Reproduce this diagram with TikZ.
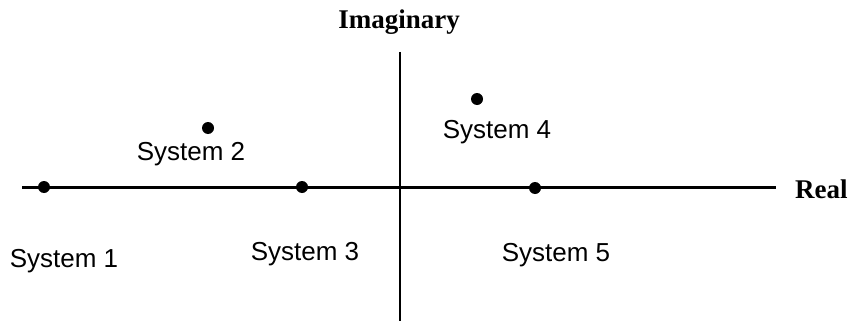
\documentclass[tikz,border=0pt]{standalone}
\usepackage{fontspec}
\setmainfont{Liberation Serif}
\newfontfamily\labelfont{Liberation Sans}
\begin{document}
\begin{tikzpicture}[x=1pt,y=-1pt,
  dotnode/.style={circle,fill=black,inner sep=0pt,minimum size=12pt},
  syslabel/.style={font=\labelfont\fontsize{26}{30}\selectfont,inner sep=0pt},
  axislabel/.style={font=\bfseries\fontsize{27}{32}\selectfont,inner sep=0pt},
  axisline/.style={line width=3pt}]
\useasboundingbox (0,0) rectangle (850,321);
\coordinate (hl) at (22,187);
\coordinate (hr) at (776,187);
\coordinate (vt) at (400,52);
\coordinate (vb) at (400,321);
\draw[axisline] (hl) -- (hr);
\draw[line width=2.5pt] (vt) -- (vb);
\node[axislabel] (imag) at (399,22) {Imaginary};
\node[axislabel,anchor=west] (real) at (795,189) {Real};
\node[dotnode] (s1) at (44,187) {};
\node[dotnode] (s2) at (208,128) {};
\node[dotnode] (s3) at (302,187) {};
\node[dotnode] (s4) at (477,99) {};
\node[dotnode] (s5) at (535,188) {};
\node[syslabel] (l1) at (64,261) {System 1};
\node[syslabel] (l2) at (191,154) {System 2};
\node[syslabel] (l3) at (305,254) {System 3};
\node[syslabel] (l4) at (497,132) {System 4};
\node[syslabel] (l5) at (556,255) {System 5};
\end{tikzpicture}
\end{document}
